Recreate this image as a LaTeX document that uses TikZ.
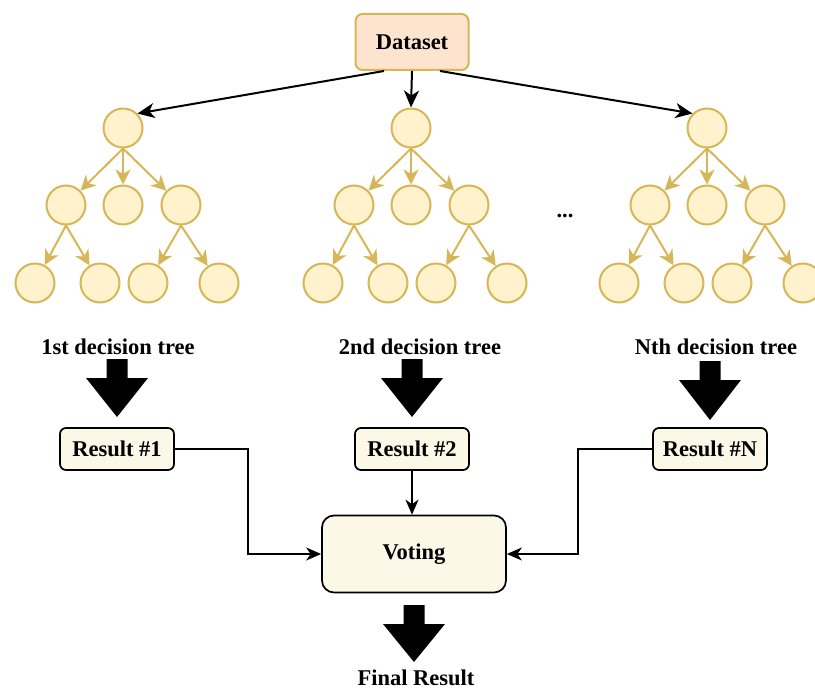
\documentclass[tikz,border=0pt]{standalone}
\usepackage{fontspec}
\setmainfont{Liberation Serif}
\usetikzlibrary{arrows.meta,calc}
\definecolor{cfill}{HTML}{FFF2CC}
\definecolor{cgold}{HTML}{D6B656}
\definecolor{dsfill}{HTML}{FDE4CE}
\definecolor{resfill}{HTML}{FCF8E8}
\tikzset{
  circ/.style={circle,draw=cgold,fill=cfill,line width=2pt,minimum size=39pt,inner sep=0pt},
  gedge/.style={draw=cgold,line width=2pt,-{Stealth[length=15pt,width=15pt,inset=4.5pt]},color=cgold},
  bedge/.style={draw=black,line width=2pt,-{Stealth[length=17pt,width=15pt,inset=5pt]}},
  conn/.style={draw=black,line width=1.6pt,-{Stealth[length=15pt,width=13pt,inset=4.5pt]}},
  lbl/.style={font=\fontsize{22.5}{26}\selectfont\bfseries,inner sep=0pt},
  resbox/.style={draw=black,fill=resfill,rounded corners=6pt,line width=1.7pt,minimum width=114pt,minimum height=42pt,inner sep=0pt,font=\fontsize{22.5}{26}\selectfont\bfseries},
  bigarrow/.style={fill=black,draw=none}
}
\begin{document}
\begin{tikzpicture}[x=1pt,y=-1pt]
\useasboundingbox (0,0) rectangle (815,690);
\clip (0,0) rectangle (815,690);
% Dataset
\node[draw=cgold,fill=dsfill,rounded corners=7pt,line width=2pt,minimum width=113pt,minimum height=56pt,inner sep=0pt,font=\fontsize{22.5}{26}\selectfont\bfseries] (ds) at (412,42) {Dataset};
% Trees
\foreach \t/\x in {1/123,2/411,3/707}{
  \node[circ] (t\t r) at (\x,128) {};
  \node[circ] (t\t a) at (\x-57,205) {};
  \node[circ] (t\t b) at (\x,205) {};
  \node[circ] (t\t c) at (\x+58,205) {};
  \node[circ] (t\t d) at (\x-88,283) {};
  \node[circ] (t\t e) at (\x-23,283) {};
  \node[circ] (t\t f) at (\x+25,283) {};
  \node[circ] (t\t g) at (\x+96,283) {};
  \draw[gedge] (t\t r.south) -- (t\t a);
  \draw[gedge] (t\t r.south) -- (t\t b);
  \draw[gedge] (t\t r.south) -- (t\t c);
  \draw[gedge] (t\t a.south) -- (t\t d);
  \draw[gedge] (t\t a.south) -- (t\t e);
  \draw[gedge] (t\t c.south) -- (t\t f);
  \draw[gedge] (t\t c.south) -- (t\t g);
}
% Dataset arrows
\draw[bedge] ($(ds.south)+(-28,0)$) -- (t1r.north east);
\draw[bedge] (ds.south) -- (t2r.north);
\draw[bedge] ($(ds.south)+(28,0)$) -- (t3r.north west);
% dots
\node[lbl] (dots) at (565,216) {...};
% labels
\node[lbl] (l1) at (118,347) {1st decision tree};
\node[lbl] (l2) at (420,347) {2nd decision tree};
\node[lbl] (l3) at (716,347) {Nth decision tree};
% big arrows
\foreach \cx/\top/\hb/\tip in {117/359/378/417, 412/359/378/417, 710/361/380/420, 414/605/624/662}{
  \fill[bigarrow] (\cx-10.5,\top) -- (\cx+10.5,\top) -- (\cx+10.5,\hb) -- (\cx+31,\hb) -- (\cx,\tip) -- (\cx-31,\hb) -- (\cx-10.5,\hb) -- cycle;
}
% results
\node[resbox] (r1) at (117,449) {Result \#1};
\node[resbox] (r2) at (412,449) {Result \#2};
\node[resbox] (r3) at (710,449) {Result \#N};
% voting
\node[draw=black,fill=resfill,rounded corners=12pt,line width=1.7pt,minimum width=184pt,minimum height=77pt,inner sep=0pt,font=\fontsize{22.5}{26}\selectfont\bfseries] (vote) at (414,554) {Voting};
\coordinate (c1) at (248,449);
\coordinate (c3) at (578,449);
\draw[conn] (r1.east) -- (c1) |- (vote.west);
\draw[conn] (r2.south) -- (r2.south |- vote.north);
\draw[conn] (r3.west) -- (c3) |- (vote.east);
% final
\node[lbl] (final) at (416,678) {Final Result};
\end{tikzpicture}
\end{document}
